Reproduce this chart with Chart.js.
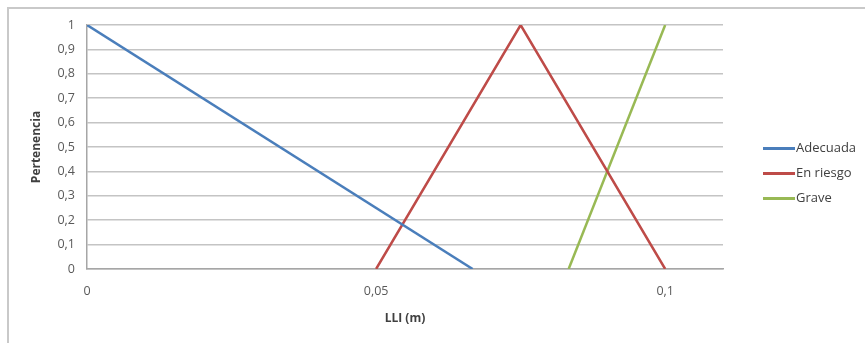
<!DOCTYPE html>
<html>
<head>
<meta charset="utf-8">
<script src="https://cdn.jsdelivr.net/npm/chart.js@4"></script>
<style>
  html, body { margin: 0; padding: 0; background: #fff; }
  #wrap { position: relative; width: 865px; height: 343px; overflow: hidden; }
  #frame { position: absolute; left: 7px; top: 7px; width: 900px; height: 400px;
           border-left: 2px solid #c9c9c9; border-top: 2px solid #c9c9c9; }
  #legend { position: absolute; left: 763px; top: 137px; font-family: "Open Sans", "Liberation Sans", sans-serif;
            font-size: 13px; color: #404040; }
  #legend div { height: 25px; line-height: 20px; white-space: nowrap; }
  #legend span.ln { display: inline-block; width: 32px; height: 3px; vertical-align: middle; margin-right: 1px; }
</style>
</head>
<body>
<div id="wrap">
  <div id="frame"></div>
  <canvas id="chart" width="865" height="343"></canvas>
  <div id="legend"></div>
</div>
<script>
// membership functions (x in m, y = pertenencia)
const adecuadaX = [0, 0.0667];
const adecuadaY = [1, 0];
const riesgoX = [0.05, 0.075, 0.1];
const riesgoY = [0, 1, 0];
const graveX = [0.0833, 0.1];
const graveY = [0, 1];

const seriesNames = ['Adecuada', 'En riesgo', 'Grave'];
const seriesColors = ['#4a7ebb', '#be4b48', '#98b954'];
const xTicks = [0, 0.05, 0.1];

const toPts = (xs, ys) => xs.map((x, i) => ({ x: x, y: ys[i] }));
const comma = v => String(Math.round(v * 1000) / 1000).replace('.', ',');

const sets = [toPts(adecuadaX, adecuadaY), toPts(riesgoX, riesgoY), toPts(graveX, graveY)];

new Chart(document.getElementById('chart'), {
    type: 'scatter',
    data: {
        datasets: sets.map((pts, i) => ({
            label: seriesNames[i],
            data: pts,
            showLine: true,
            borderColor: seriesColors[i],
            backgroundColor: seriesColors[i],
            borderWidth: 2.5,
            pointRadius: 0,
            tension: 0
        }))
    },
    options: {
        responsive: false,
        animation: false,
        layout: { padding: { left: 9, right: 142, top: 25, bottom: 0 } },
        plugins: { legend: { display: false }, tooltip: { enabled: false } },
        scales: {
            x: {
                type: 'linear',
                min: 0,
                max: 0.11,
                afterBuildTicks: s => { s.ticks = xTicks.map(v => ({ value: v })); },
                afterFit: s => { s.height = 74; },
                grid: { display: false, drawTicks: false },
                border: { color: '#a6a6a6', width: 1.5 },
                ticks: {
                    padding: 15,
                    color: '#595959',
                    font: { family: 'Open Sans', size: 12.5 },
                    maxRotation: 0,
                    callback: v => comma(v)
                },
                title: {
                    display: true,
                    text: 'LLI (m)',
                    color: '#404040',
                    font: { family: 'Open Sans', size: 12, weight: 'bold' },
                    padding: { top: 0, bottom: 17 }
                }
            },
            y: {
                min: 0,
                max: 1,
                afterFit: s => { s.width = 78; },
                grid: { color: '#c4c4c4', lineWidth: 1.5, drawTicks: false },
                border: { color: '#a6a6a6', width: 1.5 },
                ticks: {
                    stepSize: 0.1,
                    padding: 12,
                    color: '#595959',
                    font: { family: 'Open Sans', size: 12.5 },
                    callback: v => comma(v)
                },
                title: {
                    display: true,
                    text: 'Pertenencia',
                    color: '#404040',
                    font: { family: 'Open Sans', size: 12, weight: 'bold' },
                    padding: { top: 20, bottom: 4 }
                }
            }
        }
    }
});

const legend = document.getElementById('legend');
seriesNames.forEach((name, i) => {
    const row = document.createElement('div');
    row.innerHTML = '<span class="ln" style="background:' + seriesColors[i] + '"></span>' + name;
    legend.appendChild(row);
});
</script>
</body>
</html>
